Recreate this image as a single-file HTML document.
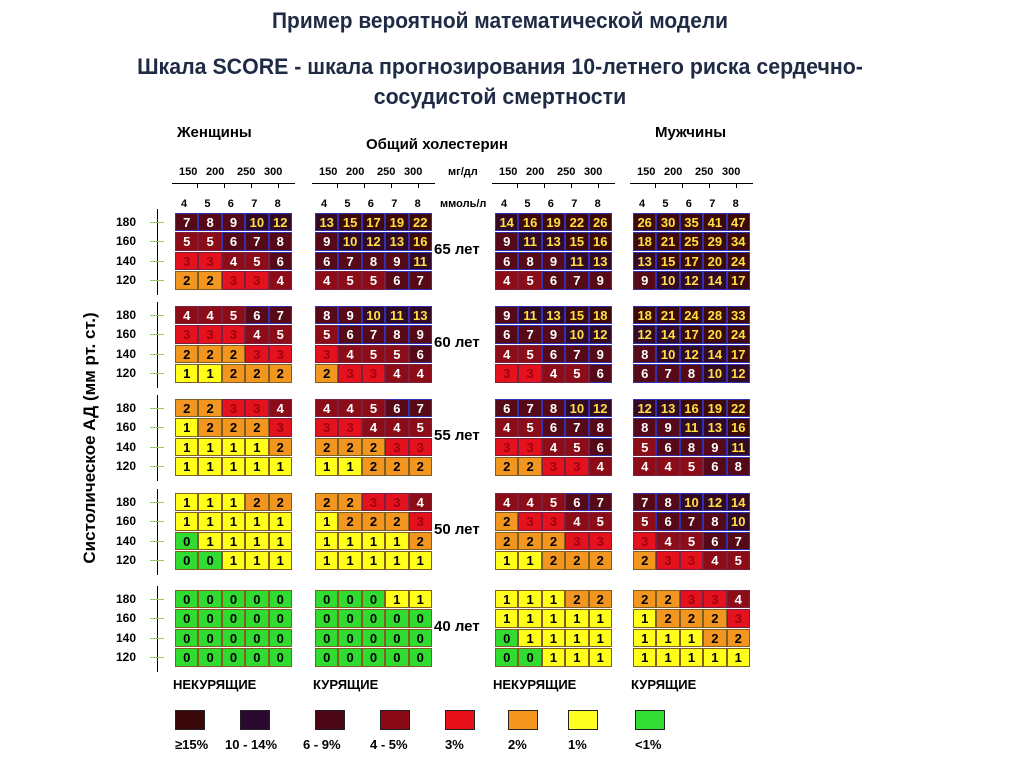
<!DOCTYPE html>
<html><head><meta charset="utf-8"><style>
body{margin:0;width:1024px;height:767px;background:#fff;font-family:"Liberation Sans",sans-serif;position:relative;overflow:hidden}
.t{position:absolute;font-weight:bold;color:#1f2a44;white-space:nowrap}
.c{position:absolute;box-sizing:border-box;font-weight:bold;font-size:13px;text-align:center;line-height:18px}
.s{position:absolute;font-weight:bold;font-size:11px;color:#000;white-space:nowrap}
</style></head><body>
<div class="t" style="left:0;width:1000px;text-align:center;top:8px;font-size:22px;transform:scaleX(0.95)">Пример вероятной математической модели</div>
<div class="t" style="left:0;width:1000px;text-align:center;top:52px;font-size:22px;line-height:30px;transform:scaleX(0.97)">Шкала SCORE - шкала прогнозирования 10-летнего риска сердечно-<br>сосудистой смертности</div>
<div class="t" style="left:177px;top:124px;font-size:15px;color:#000">Женщины</div>
<div class="t" style="left:655px;top:124px;font-size:15px;color:#000">Мужчины</div>
<div class="t" style="left:366px;top:136px;font-size:15px;color:#000">Общий холестерин</div>
<div class="s" style="left:448px;top:166px">мг/дл</div>
<div class="s" style="left:440px;top:198px">ммоль/л</div>
<div class="t" style="left:-60px;top:428px;width:300px;text-align:center;font-size:17px;color:#000;transform:rotate(-90deg)">Систолическое АД (мм рт. ст.)</div>
<div id="root"></div>
<script>
const ages=["65 лет","60 лет","55 лет","50 лет","40 лет"];
const pressures=["180","160","140","120"];
const mmol=["4","5","6","7","8"];
const mgdl=["150","200","250","300"];
const groupLabels=["НЕКУРЯЩИЕ","КУРЯЩИЕ","НЕКУРЯЩИЕ","КУРЯЩИЕ"];
const legendLabels=["≥15%","10 - 14%","6 - 9%","4 - 5%","3%","2%","1%","<1%"];
const womenNon=[[[7,8,9,10,12],[5,5,6,7,8],[3,3,4,5,6],[2,2,3,3,4]],[[4,4,5,6,7],[3,3,3,4,5],[2,2,2,3,3],[1,1,2,2,2]],[[2,2,3,3,4],[1,2,2,2,3],[1,1,1,1,2],[1,1,1,1,1]],[[1,1,1,2,2],[1,1,1,1,1],[0,1,1,1,1],[0,0,1,1,1]],[[0,0,0,0,0],[0,0,0,0,0],[0,0,0,0,0],[0,0,0,0,0]]];
const womenSmk=[[[13,15,17,19,22],[9,10,12,13,16],[6,7,8,9,11],[4,5,5,6,7]],[[8,9,10,11,13],[5,6,7,8,9],[3,4,5,5,6],[2,3,3,4,4]],[[4,4,5,6,7],[3,3,4,4,5],[2,2,2,3,3],[1,1,2,2,2]],[[2,2,3,3,4],[1,2,2,2,3],[1,1,1,1,2],[1,1,1,1,1]],[[0,0,0,1,1],[0,0,0,0,0],[0,0,0,0,0],[0,0,0,0,0]]];
const menNon=[[[14,16,19,22,26],[9,11,13,15,16],[6,8,9,11,13],[4,5,6,7,9]],[[9,11,13,15,18],[6,7,9,10,12],[4,5,6,7,9],[3,3,4,5,6]],[[6,7,8,10,12],[4,5,6,7,8],[3,3,4,5,6],[2,2,3,3,4]],[[4,4,5,6,7],[2,3,3,4,5],[2,2,2,3,3],[1,1,2,2,2]],[[1,1,1,2,2],[1,1,1,1,1],[0,1,1,1,1],[0,0,1,1,1]]];
const menSmk=[[[26,30,35,41,47],[18,21,25,29,34],[13,15,17,20,24],[9,10,12,14,17]],[[18,21,24,28,33],[12,14,17,20,24],[8,10,12,14,17],[6,7,8,10,12]],[[12,13,16,19,22],[8,9,11,13,16],[5,6,8,9,11],[4,4,5,6,8]],[[7,8,10,12,14],[5,6,7,8,10],[3,4,5,6,7],[2,3,3,4,5]],[[2,2,3,3,4],[1,2,2,2,3],[1,1,1,2,2],[1,1,1,1,1]]];
const grids=[womenNon,womenSmk,menNon,menSmk];
const gridX=[175,315,495,633], cw=23.4, rh=19.4, groupY=[213,306,399,493,590];
const legendColors=["#3a0808","#2a0830","#4a0614","#8a0a16","#e8101a","#f4961e","#ffff22","#33dd33"];
function bg(v){return v>=15?"#3c0a0a":v>=10?"#330a26":v>=6?"#560a18":v>=4?"#8c0c18":v==3?"#e4121c":v==2?"#f39620":v==1?"#ffff1a":"#30dc30";}
function fg(v){return v>=10?"#ffe040":v>=4?"#fff":v==3?"#a00010":"#000";}
function bd(v){return v>=6?"#3030b0":v>=3?"#7a2040":"#806020";}
const root=document.getElementById('root');
function add(cls,name,style,txt){const e=document.createElement('div');e.className=cls;e.style.cssText=style;if(txt!==undefined)e.textContent=txt;


root.appendChild(e);return e;}
grids.forEach((g,gi)=>{const x0=gridX[gi];
 mgdl.forEach((t,i)=>add('s','mgdl-tick-label',`left:${x0+12+i*27+(i>1?4:0)-8}px;top:166px`,t));
 add('c','top-axis-line',`left:${x0-3}px;top:183px;width:${cw*5+6}px;height:1px;background:#000`);
 [0,1,2,3].forEach(i=>add('c','top-axis-tick',`left:${x0+22+i*27}px;top:183px;width:1px;height:5px;background:#000`));
 mmol.forEach((t,i)=>add('s','mmol-tick-label',`left:${x0+i*cw+6}px;top:198px`,t));
 g.forEach((grp,ai)=>grp.forEach((row,ri)=>row.forEach((v,ci)=>{
  add('c','risk-cell',`left:${x0+ci*cw}px;top:${groupY[ai]+ri*rh}px;width:${cw}px;height:${rh-1}px;background:${bg(v)};color:${fg(v)};border:1px solid ${bd(v)}`,v);
 })));
 add('t','group-label',`left:${x0-2}px;top:677px;font-size:13px;color:#000`,groupLabels[gi]);
});
ages.forEach((a,ai)=>{
 add('t','age-label',`left:434px;top:${groupY[ai]+28}px;font-size:15px;color:#000`,a);
 add('c','y-axis-line',`left:157px;top:${groupY[ai]-4}px;width:1px;height:${rh*4+8}px;background:#000`);
 pressures.forEach((p,ri)=>{
  add('s','pressure-label',`left:116px;top:${groupY[ai]+ri*rh+2}px;font-size:12px`,p);
  add('c','y-tick',`left:150px;top:${groupY[ai]+ri*rh+9}px;width:14px;height:1px;background:#9c6`);
 });
});
const lx=[175,240,315,380,445,508,568,635];
legendLabels.forEach((l,i)=>{
 add('c','legend-swatch',`left:${lx[i]}px;top:710px;width:30px;height:20px;background:${legendColors[i]};border:1px solid #222`);
 add('t','legend-label',`left:${lx[i]-(i==1?15:i==2?12:i==3?10:0)}px;top:737px;font-size:13px;color:#000`,l);
});
</script>
</body></html>
